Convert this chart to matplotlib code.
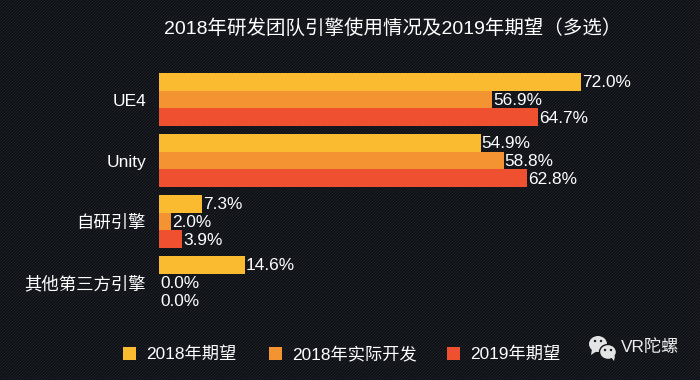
import numpy as np
import matplotlib
matplotlib.use('Agg')
import matplotlib.pyplot as plt
from matplotlib.patches import Ellipse, Polygon, Rectangle

plt.rcParams['font.family'] = ['Liberation Sans', 'Noto Sans CJK SC', 'DejaVu Sans']

categories = ['UE4', 'Unity', '自研引擎', '其他第三方引擎']
series_names = ['2018年期望', '2018年实际开发', '2019年期望']
expect_2018 = [72.0, 54.9, 7.3, 14.6]
actual_2018 = [56.9, 58.8, 2.0, 0.0]
expect_2019 = [64.7, 62.8, 3.9, 0.0]
colors = ['#fbbb30', '#f49331', '#ef5030']
title = '2018年研发团队引擎使用情况及2019年期望（多选）'

W, H = 700, 380
fig = plt.figure(figsize=(W / 100, H / 100), dpi=100)

# 背景的斜纹
yy, xx = np.mgrid[0:H, 0:W]
stripes = ((xx + yy) % 3 == 0).astype(float)
bg = np.ones((H, W, 3)) * np.array([0.06, 0.07, 0.09])
bg += stripes[..., None] * 0.06
fig.figimage(bg, 0, 0, zorder=-10)

ax = fig.add_axes([159 / W, 1 - 313 / H, 491 / W, 244 / H])
ax.patch.set_alpha(0)
for s in ax.spines.values():
    s.set_visible(False)
ax.set_xlim(0, 491 / 5.861)
ax.set_ylim(3.5, -0.5)

y = np.arange(len(categories))
bar_h = 0.292
for i, vals in enumerate([expect_2018, actual_2018, expect_2019]):
    pos = y + (i - 1) * bar_h
    ax.barh(pos, vals, height=bar_h, color=colors[i], linewidth=0)
    for p, v in zip(pos, vals):
        ax.annotate('%.1f%%' % v, (v, p), xytext=(0.7, -0.5), textcoords='offset points',
                    va='center', ha='left', color='white', fontsize=12.4)

ax.set_yticks(y)
ax.set_yticklabels(categories, color='white', fontsize=12.5)
ax.set_xticks([])
ax.tick_params(axis='y', length=0, pad=9.4)

fig.text(393 / W, 1 - 29 / H, title, color='white', fontsize=14, ha='center', va='center')

# 图例
legend_x = [123, 269, 447]
for name, c, lx in zip(series_names, colors, legend_x):
    fig.add_artist(Rectangle((lx / W, 1 - 360 / H), 13 / W, 13 / H, transform=fig.transFigure,
                             color=c, linewidth=0))
    fig.text((lx + 23.5) / W, 1 - 354 / H, name, color='white', fontsize=12.4, ha='left', va='center')

# 水印
def px(x, y):
    return (x / W, 1 - y / H)

logo = '#e4e4e4'
dark = '#14171c'
fig.add_artist(Ellipse(px(598, 344), 18 / W, 16 / H, transform=fig.transFigure, color=logo, linewidth=0))
fig.add_artist(Polygon([px(592, 349), px(597, 351), px(591, 355)], transform=fig.transFigure, color=logo, linewidth=0))
fig.add_artist(Ellipse(px(608, 352), 17 / W, 15 / H, transform=fig.transFigure, facecolor=logo, edgecolor=dark,
                       linewidth=1))
fig.add_artist(Polygon([px(611, 357), px(615, 356), px(614, 361)], transform=fig.transFigure, color=logo, linewidth=0))
for ex, ey in [(595, 341), (601, 341), (605, 350), (611, 350)]:
    fig.add_artist(Ellipse(px(ex, ey), 2.4 / W, 2.4 / H, transform=fig.transFigure, color=dark, linewidth=0))
fig.text(621 / W, 1 - 347 / H, 'VR陀螺', color='#eeeeee', fontsize=12.4, ha='left', va='center')

fig.savefig('out.png', dpi=100)
